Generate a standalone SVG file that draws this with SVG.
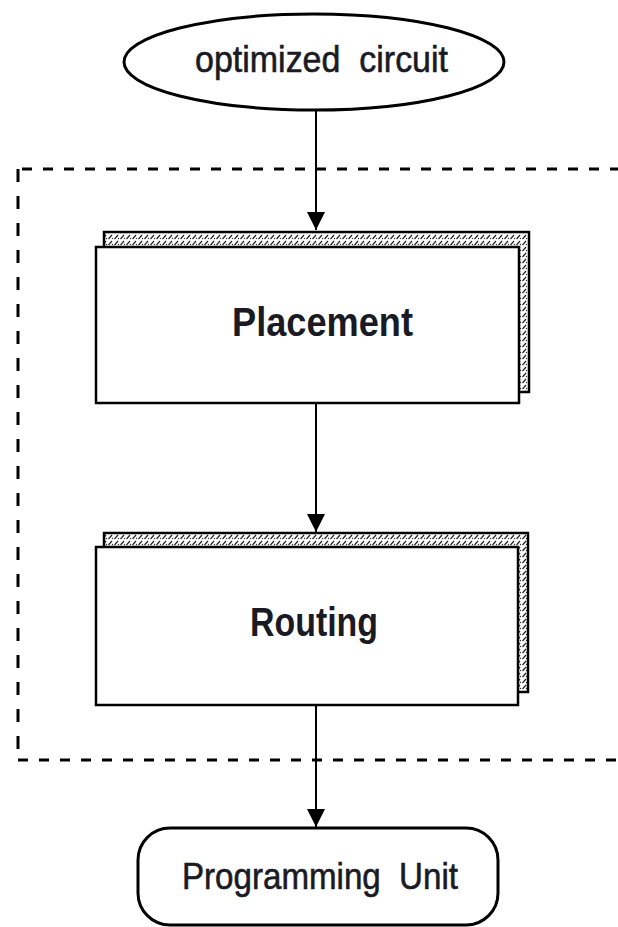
<svg xmlns="http://www.w3.org/2000/svg" width="618" height="927" viewBox="0 0 618 927">
  <defs>
    <pattern id="hatch" width="6" height="6" patternUnits="userSpaceOnUse">
      <rect width="6" height="6" fill="#fff"/>
      <path d="M0.5,5 L4,1" stroke="#222" stroke-width="1.2"/>
      <circle cx="4.5" cy="4.5" r="0.7" fill="#333"/>
    </pattern>
    <marker id="arrow" viewBox="0 0 18 24" refX="18" refY="9" markerWidth="18" markerHeight="24" markerUnits="userSpaceOnUse" orient="auto">
      <path d="M0,0 L24,9 L0,18 Z" fill="#000" transform="scale(0.75,1)"/>
    </marker>
    <style>
      .lbl { font-family: "Liberation Sans", Arial, sans-serif; fill: #1a1a24; text-anchor: start; white-space: pre; }
      .med { stroke: #1a1a24; stroke-width: 0.6; }
      .bold { font-weight: bold; }
      .node { fill: #fff; stroke: #000; stroke-width: 3; }
      .back { fill: url(#hatch); stroke: #000; stroke-width: 2.5; }
      .front { fill: #fff; stroke: #000; stroke-width: 2.5; }
      .conn { stroke: #000; stroke-width: 2; fill: none; }
      .dash { stroke: #000; stroke-width: 3; fill: none; stroke-dasharray: 10 11; }
      .dashv { stroke: #000; stroke-width: 3; fill: none; stroke-dasharray: 13 14; }
    </style>
  </defs>
  <rect width="618" height="927" fill="#fff"/>

  <g id="boundary">
    <path class="dash" d="M620,169 H18"/>
    <path class="dashv" d="M18,169 V760"/>
    <path class="dash" d="M18,760 H620"/>
  </g>

  <g id="optimized-circuit">
    <ellipse class="node" cx="314" cy="62" rx="190" ry="48"/>
    <text class="lbl med" x="195" y="72" font-size="37" textLength="253" lengthAdjust="spacingAndGlyphs" xml:space="preserve">optimized  circuit</text>
  </g>

  <g id="placement">
    <rect class="back" x="104" y="232" width="425" height="160"/>
    <rect class="front" x="96" y="247" width="423" height="156"/>
    <text class="lbl bold" x="232" y="336" font-size="40" textLength="181" lengthAdjust="spacingAndGlyphs">Placement</text>
  </g>

  <g id="routing">
    <rect class="back" x="104" y="533" width="424" height="159"/>
    <rect class="front" x="96" y="547" width="422" height="158"/>
    <text class="lbl bold" x="250" y="636" font-size="40" textLength="128" lengthAdjust="spacingAndGlyphs">Routing</text>
  </g>

  <g id="programming-unit">
    <rect class="node" x="138" y="828" width="360" height="97" rx="32" ry="32"/>
    <text class="lbl med" x="182" y="889" font-size="36" textLength="276" lengthAdjust="spacingAndGlyphs" xml:space="preserve">Programming  Unit</text>
  </g>

  <g id="connectors">
    <line class="conn" x1="316" y1="110" x2="316" y2="230" marker-end="url(#arrow)"/>
    <line class="conn" x1="316" y1="403" x2="316" y2="532" marker-end="url(#arrow)"/>
    <line class="conn" x1="316" y1="705" x2="316" y2="827" marker-end="url(#arrow)"/>
  </g>
</svg>
